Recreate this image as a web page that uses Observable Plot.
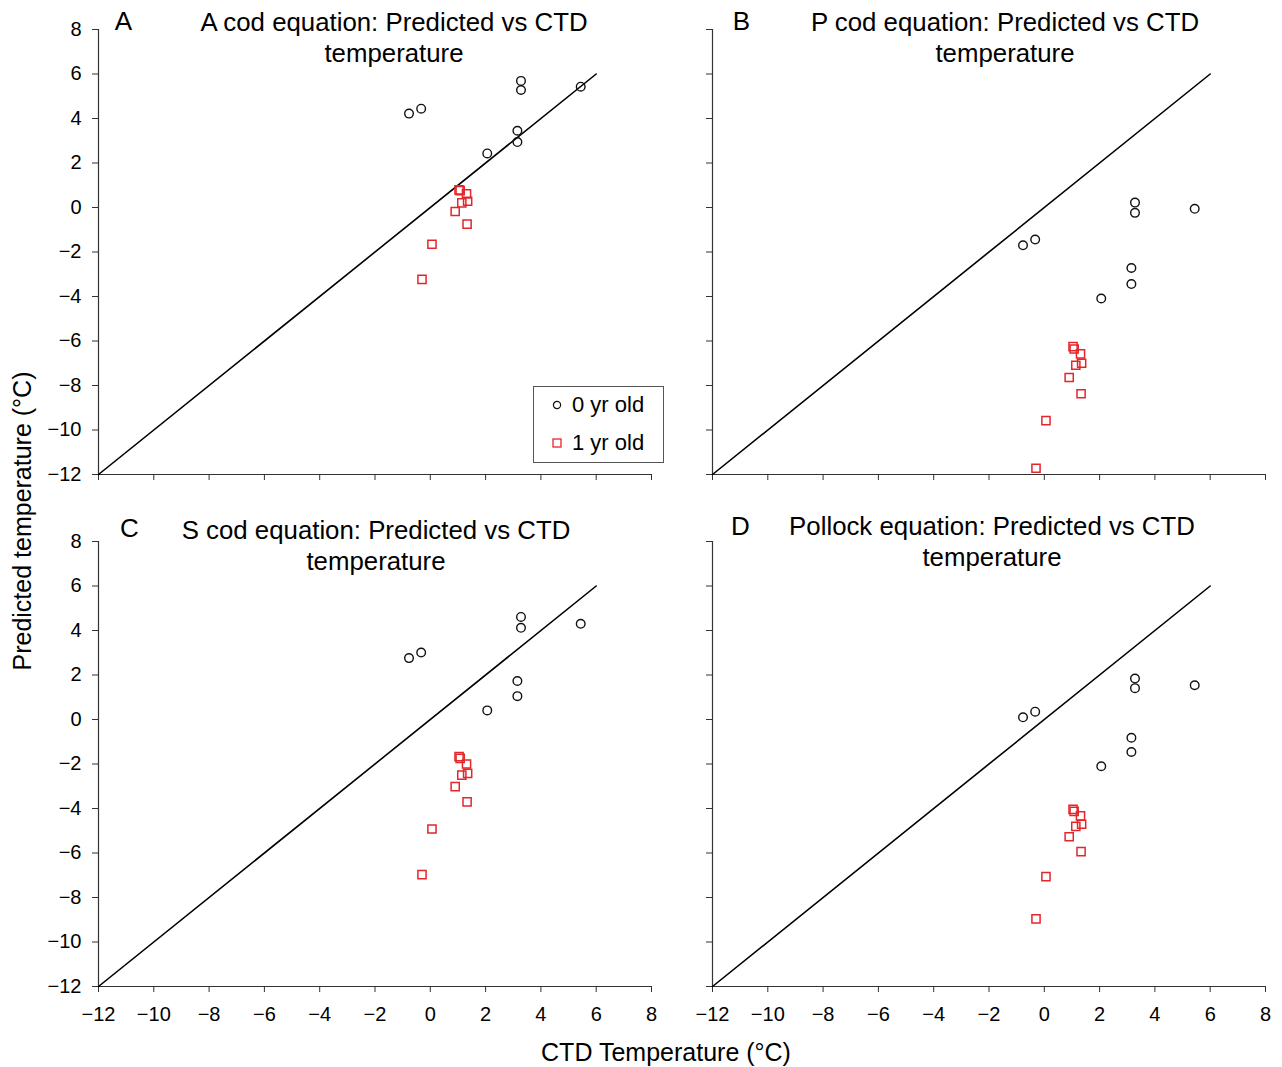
<!DOCTYPE html>
<html>
<head>
<meta charset="utf-8">
<script src="https://cdn.jsdelivr.net/npm/d3@7"></script>
<script src="https://cdn.jsdelivr.net/npm/@observablehq/plot@0.6"></script>
<style>
  html, body { margin: 0; padding: 0; background: #fff; }
  #wrap { position: relative; width: 1282px; height: 1067px; font-family: "Liberation Sans", Arial, Helvetica, sans-serif; color: #000; }
  #wrap > svg { position: absolute; left: 0; top: 0; }
  .ytitle { position: absolute; left: 22px; top: 521px; transform: translate(-50%, -50%) rotate(-90deg); white-space: nowrap; font-size: 25px; }
  .xtitle { position: absolute; left: 666px; top: 1052px; transform: translate(-50%, -50%); white-space: nowrap; font-size: 25px; }
  .legend { position: absolute; left: 533px; top: 386px; width: 129px; height: 75px; border: 1px solid #555; background: #fff; font-size: 22px; }
  .legend .item { position: absolute; left: 16px; height: 26px; display: flex; align-items: center; }
  .legend svg { margin-right: 8px; }
</style>
</head>
<body>
<div id="wrap"></div>
<script>
// CTD (observed) temperatures, shared by every panel
const ctd0 = [-0.77, -0.33, 3.28, 3.28, 5.44, 3.15, 3.15, 2.06];          // 0 yr old
const ctd1 = [1.04, 1.08, 1.31, 1.14, 1.35, 0.90, 1.33, 0.06, -0.30];     // 1 yr old

// Predicted temperatures by equation
const predA0 = [4.22, 4.44, 5.69, 5.28, 5.43, 3.45, 2.94, 2.43];
const predA1 = [0.79, 0.76, 0.61, 0.21, 0.28, -0.18, -0.75, -1.65, -3.23];
const predB0 = [-1.70, -1.44, 0.22, -0.24, -0.06, -2.72, -3.44, -4.09];
const predB1 = [-6.25, -6.36, -6.58, -7.09, -7.00, -7.64, -8.37, -9.58, -11.72];
const predC0 = [2.76, 3.01, 4.61, 4.12, 4.30, 1.73, 1.05, 0.41];
const predC1 = [-1.67, -1.75, -2.00, -2.50, -2.42, -3.02, -3.70, -4.92, -6.97];
const predD0 = [0.10, 0.35, 1.84, 1.41, 1.54, -0.82, -1.46, -2.10];
const predD1 = [-4.04, -4.13, -4.33, -4.80, -4.71, -5.27, -5.94, -7.06, -8.96];

const panelLetters = ["A", "B", "C", "D"];
const panelTitles = [
  "A cod equation: Predicted vs CTD\ntemperature",
  "P cod equation: Predicted vs CTD\ntemperature",
  "S cod equation: Predicted vs CTD\ntemperature",
  "Pollock equation: Predicted vs CTD\ntemperature"
];
const panelCols = ["L", "R", "L", "R"];
const panelRows = ["T", "T", "B", "B"];
const ageLabels = ["0 yr old", "1 yr old"];

const xTicks = [-12, -10, -8, -6, -4, -2, 0, 2, 4, 6, 8];
const yTicks = [-12, -10, -8, -6, -4, -2, 0, 2, 4, 6, 8];
const oneToOne = [-12, 6];

const preds0 = [predA0, predB0, predC0, predD0];
const preds1 = [predA1, predB1, predC1, predD1];

const rows = [];
panelLetters.forEach((p, k) => {
  ctd0.forEach((c, i) => rows.push({panel: p, col: panelCols[k], row: panelRows[k], ctd: c, pred: preds0[k][i], age: ageLabels[0]}));
  ctd1.forEach((c, i) => rows.push({panel: p, col: panelCols[k], row: panelRows[k], ctd: c, pred: preds1[k][i], age: ageLabels[1]}));
});

const panels = panelLetters.map((p, k) => ({letter: p, title: panelTitles[k], col: panelCols[k], row: panelRows[k]}));

const RED = "#e4262b";
const AXIS = "#333";
const FONT = "'Liberation Sans', Arial, Helvetica, sans-serif";

// per-panel text offsets (style only)
const titleDx = [19, 16, 1, 3];
const titleDy = [-21, -21, -24.5, -28.5];
const letterDx = [25, 29, 31, 28];
const letterDy = [-8, -8, -13, -15];

const textMarks = [];
panels.forEach((d, k) => {
  textMarks.push(Plot.text([d], {
    fx: "col", fy: "row", text: "title", frameAnchor: "top", textAnchor: "middle",
    lineAnchor: "top", lineHeight: 1.21, dx: titleDx[k], dy: titleDy[k],
    fontSize: 25.8, fill: "black"
  }));
  textMarks.push(Plot.text([d], {
    fx: "col", fy: "row", text: "letter", frameAnchor: "top-left", textAnchor: "middle",
    lineAnchor: "middle", dx: letterDx[k], dy: letterDy[k], fontSize: 26, fill: "black"
  }));
});

const chart = Plot.plot({
  width: 1282,
  height: 1067,
  marginTop: 28,
  marginLeft: 97,
  marginRight: 17,
  marginBottom: 80,
  style: {fontFamily: FONT, fontSize: "20px", color: "black", background: "transparent"},
  fx: {domain: ["L", "R"], paddingInner: 0.1, paddingOuter: 0, axis: null},
  fy: {domain: ["T", "B"], paddingInner: 0.1306, paddingOuter: 0, axis: null},
  x: {domain: [-12, 8], axis: null},
  y: {domain: [-12, 8], axis: null},
  marks: [
    Plot.ruleX([-12], {stroke: AXIS, strokeWidth: 1.2}),
    Plot.ruleY([-12], {stroke: AXIS, strokeWidth: 1.2}),
    // x axis: labels on bottom row, ticks only on top row
    Plot.axisX({ticks: xTicks, tickSize: 6, tickPadding: 14, stroke: AXIS, label: null, fontSize: 20, facetAnchor: "bottom", anchor: "bottom"}),
    Plot.axisX({ticks: xTicks, tickSize: 6, tickFormat: () => "", stroke: AXIS, label: null, facetAnchor: "top", anchor: "bottom"}),
    // y axis: labels on left column, ticks only on right column
    Plot.axisY({ticks: yTicks, tickSize: 6, tickPadding: 11, stroke: AXIS, label: null, fontSize: 20, facetAnchor: "left", anchor: "left"}),
    Plot.axisY({ticks: yTicks, tickSize: 6, tickFormat: () => "", stroke: AXIS, label: null, facetAnchor: "right", anchor: "left"}),
    Plot.line(oneToOne, {x: d => d, y: d => d, stroke: "black", strokeWidth: 1.6}),
    Plot.dot(rows.filter(d => d.age === ageLabels[0]), {x: "ctd", y: "pred", fx: "col", fy: "row", symbol: "circle", r: 4.3, stroke: "#111", strokeWidth: 1.4, fill: "none"}),
    Plot.dot(rows.filter(d => d.age === ageLabels[1]), {x: "ctd", y: "pred", fx: "col", fy: "row", symbol: "square", r: 4.6, stroke: RED, strokeWidth: 1.5, fill: "none"}),
    ...textMarks
  ]
});

const wrap = document.getElementById("wrap");
wrap.appendChild(chart);

const yt = document.createElement("div");
yt.className = "ytitle";
yt.textContent = "Predicted temperature (°C)";
wrap.appendChild(yt);

const xt = document.createElement("div");
xt.className = "xtitle";
xt.textContent = "CTD Temperature (°C)";
wrap.appendChild(xt);

const lg = document.createElement("div");
lg.className = "legend";
lg.innerHTML =
  `<div class="item" style="top:5px"><svg width="14" height="14"><circle cx="7" cy="7" r="3.6" fill="none" stroke="#111" stroke-width="1.2"/></svg>${ageLabels[0]}</div>` +
  `<div class="item" style="top:43px"><svg width="14" height="14"><rect x="3" y="3" width="8" height="8" fill="none" stroke="${RED}" stroke-width="1.3"/></svg>${ageLabels[1]}</div>`;
wrap.appendChild(lg);
</script>
</body>
</html>
